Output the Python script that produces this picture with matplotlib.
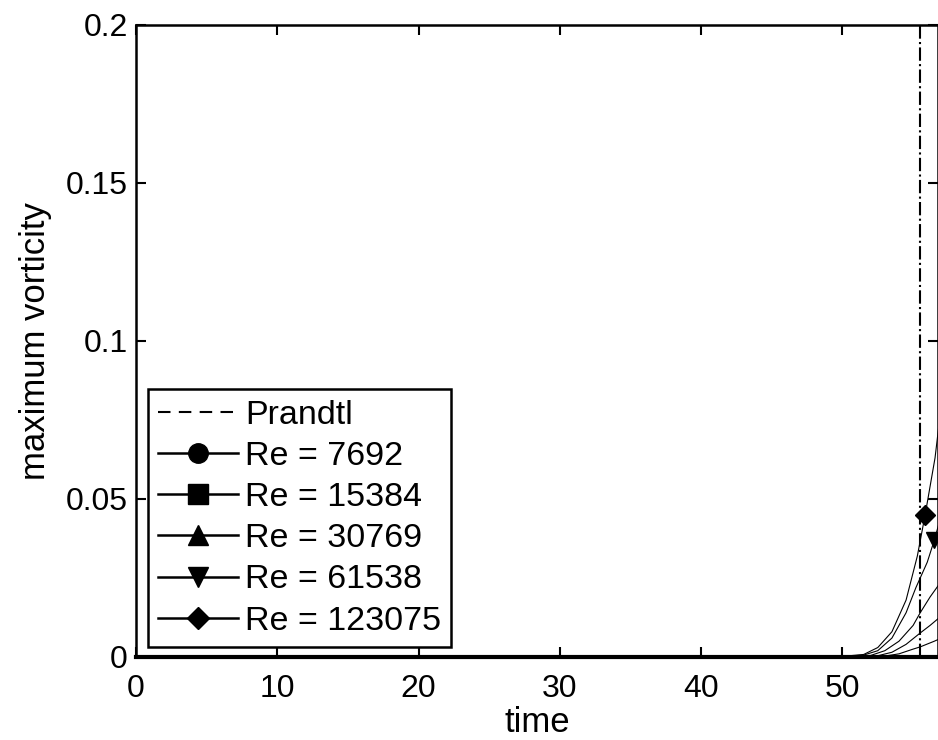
import matplotlib.pyplot as plt
from matplotlib.lines import Line2D

plt.rcParams['font.family'] = ['Liberation Sans', 'DejaVu Sans']

# Prandtl singularity time
t_prandtl = 55.5

# time / maximum vorticity for each Reynolds number
t_7692 = [0, 34.5, 50, 53, 54, 55, 55.5, 56.5, 57, 58.5]
w_7692 = [0.0004, 0.0004, 0.0002, 0.0003, 0.001, 0.0025, 0.0032, 0.005, 0.006, 0.012]

t_15384 = [0, 34.5, 50, 52.5, 53.5, 54.5, 55.5, 56.2, 57, 58.5]
w_15384 = [0.0004, 0.0004, 0.0002, 0.0004, 0.0015, 0.004, 0.0076, 0.010, 0.013, 0.022]

t_30769 = [34.5, 50, 52, 53, 54, 55, 55.5, 56.2, 57, 58]
w_30769 = [0.0003, 0.0002, 0.0005, 0.002, 0.005, 0.010, 0.014, 0.019, 0.024, 0.032]

t_61538 = [34.5, 50, 51.5, 52.5, 53.5, 54.5, 55.2, 56, 56.5, 57]
w_61538 = [0.0003, 0.0002, 0.0006, 0.002, 0.006, 0.014, 0.022, 0.030, 0.037, 0.045]

t_123075 = [34.5, 50, 51.5, 52.5, 53.5, 54.5, 55.3, 55.85, 56.55, 57]
w_123075 = [0.0003, 0.0002, 0.0008, 0.003, 0.008, 0.018, 0.032, 0.045, 0.063, 0.08]

labels = ['Re = 7692', 'Re = 15384', 'Re = 30769', 'Re = 61538', 'Re = 123075']
markers = ['o', 's', '^', 'v', 'D']
series = [(t_7692, w_7692, 9), (t_15384, w_15384, 9), (t_30769, w_30769, 9),
          (t_61538, w_61538, 8), (t_123075, w_123075, 7)]

fig = plt.figure(figsize=(9.38, 7.4), dpi=100)
ax = fig.add_axes([136 / 938, 1 - 657 / 740, 1 - 136 / 938, (657 - 25) / 740])

ax.axvline(t_prandtl, color='black', linestyle='-.', linewidth=1.5)

# legend shows Prandtl as a plain dashed line
handles = [Line2D([], [], color='black', linestyle=(0, (6, 4)), linewidth=1.5, label='Prandtl')]
for (t, w, mk_i), lab, mk in zip(series, labels, markers):
    ax.plot(t, w, color='black', linewidth=0.8, marker=mk, markevery=[mk_i],
            markersize=12 if mk != 'D' else 10)
    handles.append(Line2D([], [], color='black', linewidth=1.8, marker=mk,
                          markersize=14 if mk != 'D' else 11, label=lab))

ax.set_xlim(0, 56.76)
ax.set_ylim(0, 0.2)
ax.set_xticks([0, 10, 20, 30, 40, 50])
ax.set_yticks([0, 0.05, 0.1, 0.15, 0.2])
ax.set_yticklabels(['0', '0.05', '0.1', '0.15', '0.2'])
ax.tick_params(direction='in', length=7, width=1.5, labelsize=23,
               top=True, right=True, pad=6)
ax.tick_params(axis='x', pad=12)
for sp in ax.spines.values():
    sp.set_linewidth(1.8)
ax.spines['bottom'].set_linewidth(3)

ax.set_xlabel('time', fontsize=25, labelpad=2)
ax.set_ylabel('maximum vorticity', fontsize=25, labelpad=10)

leg = ax.legend(handles=handles, loc='lower left', bbox_to_anchor=(0.015, 0.016),
                borderaxespad=0, fontsize=24.5, handlelength=2.35, handletextpad=0.2,
                labelspacing=0.3, borderpad=0.3, fancybox=False, framealpha=1,
                edgecolor='black')
leg.get_frame().set_linewidth(1.8)

fig.savefig('out.png', dpi=100)
